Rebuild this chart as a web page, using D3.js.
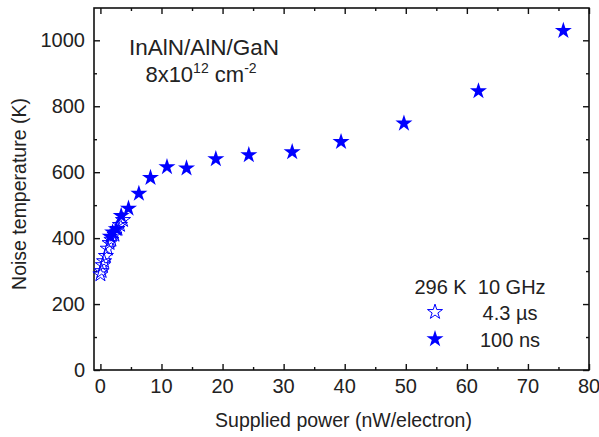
<!DOCTYPE html>
<html>
<head>
<meta charset="utf-8">
<script src="https://cdn.jsdelivr.net/npm/d3@7"></script>
<style>
  body { margin: 0; background: #fff; }
  text { font-family: "Liberation Sans", Arial, sans-serif; fill: #222; white-space: pre; }
</style>
</head>
<body>
<div id="plot"></div>
<script>
// Data
const longPulsePower = [0.0, 0.2, 0.4, 0.6, 0.9, 1.2, 1.5, 1.8, 2.3, 2.8, 3.2, 3.7];
const longPulseTemp = [290, 300, 318, 330, 346, 368, 385, 395, 410, 428, 440, 455];
const shortPulsePower = [1.6, 2.0, 2.6, 3.4, 4.6, 6.3, 8.2, 10.9, 14.1, 18.9, 24.3, 31.4, 39.4, 49.7, 61.9, 75.8];
const shortPulseTemp = [405, 418, 428, 468, 490, 535, 583, 616, 612, 640, 652, 661, 692, 748, 846, 1029];
const xTicks = [0, 10, 20, 30, 40, 50, 60, 70, 80];
const yTicks = [0, 200, 400, 600, 800, 1000];

const W = 599, H = 437;
const margin = { top: 8, right: 10, bottom: 67, left: 94 };
const width = W - margin.left - margin.right;
const height = H - margin.top - margin.bottom;

const svg = d3.select("#plot").append("svg")
  .attr("width", W)
  .attr("height", H);

const g = svg.append("g")
  .attr("transform", `translate(${margin.left},${margin.top})`);

const x = d3.scaleLinear().domain([-1.05, 80]).range([0, width]);
const y = d3.scaleLinear().domain([0, 1098]).range([height, 0]);

const minorX = d3.range(5, 80, 10);
const minorY = d3.range(100, 1100, 200);

// frame
g.append("rect")
  .attr("width", width)
  .attr("height", height)
  .attr("fill", "none")
  .attr("stroke", "#111")
  .attr("stroke-width", 1.6);

// ticks, all pointing inward
function drawTicks(axisGen, vals, len, transform) {
  const a = g.append("g").attr("transform", transform)
    .call(axisGen.tickValues(vals).tickSize(len).tickFormat(""));
  a.select(".domain").remove();
  a.selectAll("line").attr("stroke", "#111").attr("stroke-width", 1.4);
}
drawTicks(d3.axisTop(x), xTicks, 6, `translate(0,${height})`);
drawTicks(d3.axisTop(x), minorX, 3, `translate(0,${height})`);
drawTicks(d3.axisBottom(x), xTicks, 6, "translate(0,0)");
drawTicks(d3.axisBottom(x), minorX, 3, "translate(0,0)");
drawTicks(d3.axisRight(y), yTicks, 6, "translate(0,0)");
drawTicks(d3.axisRight(y), minorY, 3, "translate(0,0)");
drawTicks(d3.axisLeft(y), yTicks, 6, `translate(${width},0)`);
drawTicks(d3.axisLeft(y), minorY, 3, `translate(${width},0)`);

// tick labels
g.selectAll(".xlab").data(xTicks).enter().append("text")
  .attr("x", d => x(d))
  .attr("y", height + 23)
  .attr("text-anchor", "middle")
  .style("font-size", "20px")
  .text(d => d);

g.selectAll(".ylab").data(yTicks).enter().append("text")
  .attr("x", -9)
  .attr("y", d => y(d) + 7)
  .attr("text-anchor", "end")
  .style("font-size", "20px")
  .text(d => d);

// axis titles
g.append("text")
  .attr("x", width / 2 + 2)
  .attr("y", height + 57)
  .attr("text-anchor", "middle")
  .style("font-size", "19.5px")
  .text("Supplied power (nW/electron)");

g.append("text")
  .attr("transform", `translate(${-68},${186}) rotate(-90)`)
  .attr("text-anchor", "middle")
  .style("font-size", "19.5px")
  .text("Noise temperature (K)");

// markers
const star = d3.symbol().type(d3.symbolStar);
const blue = "#0000ff";

g.selectAll(".open").data(d3.zip(longPulsePower, longPulseTemp)).enter().append("path")
  .attr("class", "open")
  .attr("transform", d => `translate(${x(d[0])},${y(d[1])})`)
  .attr("d", star.size(70))
  .attr("fill", "none")
  .attr("stroke", blue)
  .attr("stroke-width", 1);

g.selectAll(".filled").data(d3.zip(shortPulsePower, shortPulseTemp)).enter().append("path")
  .attr("class", "filled")
  .attr("transform", d => `translate(${x(d[0])},${y(d[1])})`)
  .attr("d", star.size(90))
  .attr("fill", blue);

// sample annotation
g.append("text")
  .attr("x", 110)
  .attr("y", 47)
  .attr("text-anchor", "middle")
  .style("font-size", "22.5px")
  .text("InAlN/AlN/GaN");

const ann = g.append("text")
  .attr("x", 107)
  .attr("y", 74)
  .attr("text-anchor", "middle")
  .style("font-size", "22px");
ann.append("tspan").text("8x10");
ann.append("tspan").attr("dy", -9).style("font-size", "14px").text("12");
ann.append("tspan").attr("dy", 9).text(" cm");
ann.append("tspan").attr("dy", -9).style("font-size", "14px").text("-2");

// legend
const legend = g.append("g");
legend.append("text")
  .attr("x", 386)
  .attr("y", 286)
  .attr("text-anchor", "middle")
  .style("font-size", "20px")
  .text("296 K  10 GHz");

const legendItems = [
  { label: "4.3 \u00b5s", filled: false },
  { label: "100 ns", filled: true }
];
legendItems.forEach((d, i) => {
  const yy = 304 + i * 27;
  legend.append("path")
    .attr("transform", `translate(${341},${yy})`)
    .attr("d", star.size(d.filled ? 90 : 70))
    .attr("fill", d.filled ? blue : "none")
    .attr("stroke", d.filled ? "none" : blue)
    .attr("stroke-width", 1);
  legend.append("text")
    .attr("x", 416)
    .attr("y", yy + 8)
    .attr("text-anchor", "middle")
    .style("font-size", "20px")
    .text(d.label);
});
</script>
</body>
</html>
